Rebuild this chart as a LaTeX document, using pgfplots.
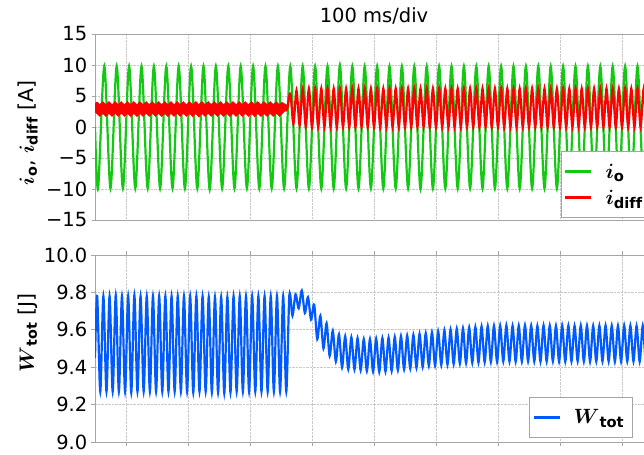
\documentclass[border=0pt]{standalone}
\usepackage{amsmath}
\usepackage{fontspec}
\setmainfont{DejaVu Sans}
\usepackage{pgfplots}
\pgfplotsset{compat=1.18}
\definecolor{cgreen}{RGB}{20,200,20}
\definecolor{cred}{RGB}{255,0,0}
\definecolor{cblue}{RGB}{0,90,255}
\definecolor{frame}{RGB}{165,165,165}
\definecolor{gridc}{RGB}{200,200,200}
\pgfplotsset{
  myaxis/.style={
    scale only axis, width=558bp, xmin=0, xmax=900,
    xtick={50,150,...,850}, xticklabels={},
    grid=major, major grid style={densely dotted, color=gridc, line width=0.7bp},
    axis line style={color=frame, line width=0.8bp},
    tick align=outside, major tick length=3.5bp,
    tick style={color=frame, line width=0.8bp},
    yticklabel style={inner sep=0pt, xshift=-4bp},
    ylabel style={anchor=center, rotate=0, font=\fontsize{20.5bp}{24bp}\selectfont},
    legend cell align=left,
    legend image code/.code={\draw[#1, line width=2.2bp] (0bp,0bp) -- (26bp,0bp);},
  },
  mylegend/.style={
    draw=frame, fill=white, line width=0.8bp, inner xsep=3bp, inner ysep=7bp,
    row sep=0bp, column sep=8bp, font=\fontsize{21bp}{25bp}\selectfont,
    nodes={inner xsep=5bp, inner ysep=3bp, minimum height=26bp},
  },
}
\begin{document}
\begin{tikzpicture}[font=\fontsize{19.5bp}{23bp}\selectfont]
\useasboundingbox (0bp,0bp) rectangle (644bp,455bp);
\clip (0bp,0bp) rectangle (644bp,455bp);
\begin{axis}[myaxis, at={(95bp,235bp)}, anchor=south west, height=186bp,
  ymin=-15, ymax=15, ytick={-15,-10,...,15},
  yticklabels={−15,−10,−5,0,5,10,15},
  xtick style={draw=none},
  ylabel={$\boldsymbol{i}_{\mathbf{o}}$, $\boldsymbol{i}_{\mathbf{diff}}$ [A]},
  ylabel style={at={(axis description cs:-0.12,0.468)}},
  title={100 ms/div},
  title style={at={(axis description cs:0.5,1.031)}, anchor=base, inner sep=0pt},
  legend style={mylegend, at={(axis description cs:0.835,0.0108)}, anchor=south west},
]
\addplot[cgreen, line width=2.2bp, smooth] coordinates {
(0,0)
(5,-9.9)(15,9.8)(25,-9.9)(35,9.8)(45,-9.9)(55,9.8)(65,-9.9)(75,9.8)(85,-9.9)(95,9.8)
(105,-9.9)(115,9.8)(125,-9.9)(135,9.8)(145,-9.9)(155,9.8)(165,-9.9)(175,9.8)(185,-10.1)(195,9.8)
(205,-9.9)(215,9.8)(225,-9.9)(235,9.8)(245,-9.9)(255,9.8)(265,-9.9)(275,9.8)(285,-9.9)(295,9.8)
(305,-9.9)(315,9.8)(325,-9.9)(335,9.8)(345,-9.9)(355,9.8)(365,-9.9)(375,9.8)(385,-9.9)(395,10)
(405,-9.9)(415,9.8)(425,-9.9)(435,9.8)(445,-9.9)(455,9.8)(465,-9.9)(475,9.8)(485,-9.9)(495,9.8)
(505,-9.9)(515,9.8)(525,-10)(535,9.8)(545,-9.9)(555,9.8)(565,-9.9)(575,9.8)(585,-9.9)(595,9.8)
(605,-9.9)(615,9.8)(625,-9.9)(635,9.8)(645,-9.9)(655,9.8)(665,-9.9)(675,9.8)(685,-9.9)(695,9.8)
(705,-9.9)(715,9.8)(725,-9.9)(735,9.8)(745,-9.9)(755,9.8)(765,-9.9)(775,9.8)(785,-9.9)(795,9.8)
(805,-9.9)(815,9.8)(825,-9.9)(835,9.8)(845,-9.9)(855,9.8)(865,-9.9)(875,9.8)(885,-9.9)(895,9.8)
(905,-9.9)
};
\addlegendentry{$\boldsymbol{i}_{\mathbf{o}}$}
\addplot[cred, line width=9bp, smooth, forget plot] coordinates {
(0,2.9)
(2.5,3.15)(7.5,2.65)(12.5,3.15)(17.5,2.65)(22.5,3.15)(27.5,2.65)(32.5,3.15)(37.5,2.65)(42.5,3.15)(47.5,2.65)
(52.5,3.15)(57.5,2.65)(62.5,3.15)(67.5,2.65)(72.5,3.15)(77.5,2.65)(82.5,3.15)(87.5,2.65)(92.5,3.15)(97.5,2.65)
(102.5,3.15)(107.5,2.65)(112.5,3.15)(117.5,2.65)(122.5,3.15)(127.5,2.65)(132.5,3.15)(137.5,2.65)(142.5,3.15)(147.5,2.65)
(152.5,3.15)(157.5,2.65)(162.5,3.15)(167.5,2.6)(172.5,3.15)(177.5,2.65)(182.5,3.15)(187.5,2.65)(192.5,3.15)(197.5,2.65)
(202.5,3.15)(207.5,2.65)(212.5,3.15)(217.5,2.65)(222.5,3.15)(227.5,2.65)(232.5,3.15)(237.5,2.65)(242.5,3.15)(247.5,2.65)
(252.5,3.15)(257.5,2.65)(262.5,3.15)(267.5,2.65)(272.5,3.15)(277.5,2.65)(282.5,3.15)(287.5,2.65)(292.5,3.15)(297.5,2.65)
(302.5,3.15)(307.5,2.8)
};
\addplot[cred, line width=2.2bp, smooth] coordinates {
(307.5,2.8)(310,2.9)(315,5.4)(320,0.5)(325,5.9)(330,0.3)(335,6.1)(340,0.1)(345,6.2)(350,0)
(355,6.2)(360,0)(365,6.2)(370,0)(375,6.2)(380,0)(385,6.2)(390,0)(395,6.2)(400,0)
(405,6.2)(410,0)(415,6.2)(420,0)(425,6.2)(430,0)(435,6.2)(440,0)(445,6.2)(450,0)
(455,6.2)(460,0)(465,6.2)(470,0)(475,6.2)(480,0)(485,6.2)(490,0)(495,6.2)(500,0)
(505,6.2)(510,0)(515,6.2)(520,0)(525,6.2)(530,0)(535,6.2)(540,0)(545,6.2)(550,0)
(555,6.2)(560,0)(565,6.2)(570,0)(575,6.2)(580,0)(585,6.2)(590,0)(595,6.2)(600,0)
(605,6.2)(610,0)(615,6.2)(620,0)(625,6.2)(630,0)(635,6.2)(640,0)(645,6.2)(650,0)
(655,6.2)(660,0)(665,6.2)(670,0)(675,6.2)(680,0)(685,6.2)(690,0)(695,6.2)(700,0)
(705,6.2)(710,0)(715,6.2)(720,0)(725,6.2)(730,0)(735,6.2)(740,0)(745,6.2)(750,0)
(755,6.2)(760,0)(765,6.2)(770,0)(775,6.2)(780,0)(785,6.2)(790,0)(795,6.2)(800,0)
(805,6.2)(810,0)(815,6.2)(820,0)(825,6.2)(830,0)(835,6.2)(840,0)(845,6.2)(850,0)
(855,6.2)(860,0)(865,6.2)(870,0)(875,6.2)(880,0)(885,6.2)(890,0)(895,6.2)(900,0)(905,6.2)
};
\addlegendentry{$\boldsymbol{i}_{\mathbf{diff}}$}
\end{axis}
\begin{axis}[myaxis, at={(95bp,13bp)}, anchor=south west, height=187bp,
  ymin=9, ymax=10, ytick={9,9.2,...,10.01},
  yticklabels={9.0,9.2,9.4,9.6,9.8,10.0},
  ylabel={$\boldsymbol{W}_{\mathbf{tot}}$ [J]},
  ylabel style={at={(axis description cs:-0.12,0.583)}},
  legend style={mylegend, at={(axis description cs:0.778,0.0214)}, anchor=south west},
]
\addplot[cblue, line width=2.2bp, smooth] coordinates {
(0,9.45)
(3.5,9.78)(8.5,9.27)(13.5,9.78)(18.5,9.27)(23.5,9.78)(28.5,9.27)(33.5,9.785)(38.5,9.27)(43.5,9.78)(48.5,9.27)
(53.5,9.78)(58.5,9.265)(63.5,9.785)(68.5,9.27)(73.5,9.78)(78.5,9.27)(83.5,9.78)(88.5,9.27)(93.5,9.78)(98.5,9.27)
(103.5,9.78)(108.5,9.27)(113.5,9.78)(118.5,9.27)(123.5,9.78)(128.5,9.27)(133.5,9.78)(138.5,9.27)(143.5,9.78)(148.5,9.27)
(153.5,9.78)(158.5,9.265)(163.5,9.78)(168.5,9.27)(173.5,9.78)(178.5,9.27)(183.5,9.775)(188.5,9.265)(193.5,9.775)(198.5,9.265)
(203.5,9.775)(208.5,9.26)(213.5,9.775)(218.5,9.265)(223.5,9.78)(228.5,9.27)(233.5,9.78)(238.5,9.27)(243.5,9.78)(248.5,9.27)
(253.5,9.78)(258.5,9.27)(263.5,9.78)(268.5,9.27)(273.5,9.78)(278.5,9.27)(283.5,9.78)(288.5,9.27)(293.5,9.78)(298.5,9.27)
(303.5,9.78)(308.5,9.27)
(313.5,9.785)(318.5,9.675)(323.5,9.79)(328.5,9.715)(333.5,9.81)(338.5,9.69)(343.5,9.775)(348.5,9.655)
(353.5,9.735)(358.5,9.55)(363.5,9.675)(368.5,9.5)(373.5,9.635)(378.5,9.46)(383.5,9.595)(388.5,9.43)
(393.5,9.575)(398.5,9.40)(403.5,9.565)(408.5,9.39)
(413.5,9.560)(418.5,9.388)(423.5,9.555)(428.5,9.384)(433.5,9.550)(438.5,9.380)(443.5,9.550)(448.5,9.377)
(453.5,9.552)(458.5,9.375)(463.5,9.555)(468.5,9.377)(473.5,9.558)(478.5,9.380)(483.5,9.562)(488.5,9.385)
(493.5,9.566)(498.5,9.389)(503.5,9.569)(508.5,9.393)(513.5,9.573)(518.5,9.397)(523.5,9.578)(528.5,9.402)
(533.5,9.582)(538.5,9.407)(543.5,9.587)(548.5,9.410)(553.5,9.592)(558.5,9.412)(563.5,9.597)(568.5,9.414)
(573.5,9.601)(578.5,9.417)(583.5,9.605)(588.5,9.420)(593.5,9.608)(598.5,9.422)(603.5,9.612)(608.5,9.424)
(613.5,9.615)(618.5,9.425)(623.5,9.618)(628.5,9.427)(633.5,9.620)(638.5,9.428)(643.5,9.621)(648.5,9.429)
(653.5,9.622)(658.5,9.431)(663.5,9.623)(668.5,9.431)(673.5,9.621)(678.5,9.430)(683.5,9.622)(688.5,9.431)
(693.5,9.624)(698.5,9.432)(703.5,9.622)(708.5,9.431)(713.5,9.621)(718.5,9.430)(723.5,9.623)(728.5,9.431)
(733.5,9.622)(738.5,9.432)(743.5,9.621)(748.5,9.431)(753.5,9.623)(758.5,9.430)(763.5,9.622)(768.5,9.431)
(773.5,9.621)(778.5,9.432)(783.5,9.623)(788.5,9.431)(793.5,9.622)(798.5,9.430)(803.5,9.621)(808.5,9.431)
(813.5,9.622)(818.5,9.432)(823.5,9.623)(828.5,9.431)(833.5,9.622)(838.5,9.430)(843.5,9.621)(848.5,9.431)
(853.5,9.623)(858.5,9.432)(863.5,9.622)(868.5,9.431)(873.5,9.621)(878.5,9.430)(883.5,9.622)(888.5,9.431)
(893.5,9.623)(898.5,9.432)(903.5,9.622)
};
\addlegendentry{$\boldsymbol{W}_{\mathbf{tot}}$}
\end{axis}
\end{tikzpicture}
\end{document}
